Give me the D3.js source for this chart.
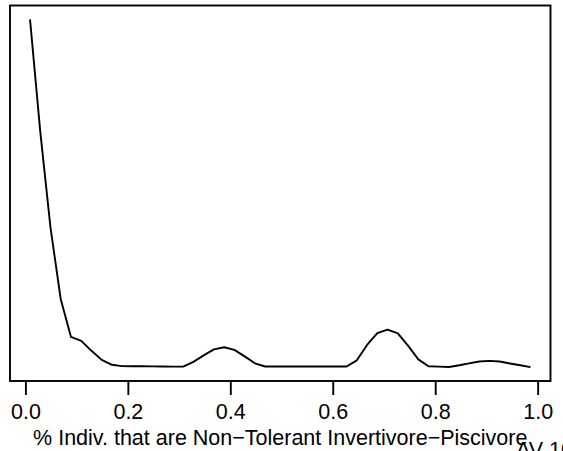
<!DOCTYPE html>
<html>
<head>
<meta charset="utf-8">
<script src="https://cdn.jsdelivr.net/npm/d3@7"></script>
<style>
  html, body { margin: 0; padding: 0; background: #fff; overflow: hidden; }
  svg { display: block; }
  text { font-family: "Liberation Sans", Arial, Helvetica, sans-serif; fill: #000; }
</style>
</head>
<body>
<svg id="chart" width="563" height="451"></svg>
<script>
// Kernel density estimate of the proportion of non-tolerant invertivore-piscivore individuals
const gridX = [
  0.009, 0.029, 0.049, 0.069, 0.089, 0.109, 0.129, 0.149, 0.169, 0.188,
  0.208, 0.228, 0.248, 0.268, 0.288, 0.308, 0.328, 0.348, 0.368, 0.388,
  0.408, 0.428, 0.448, 0.468, 0.488, 0.508, 0.527, 0.547, 0.567, 0.587,
  0.607, 0.627, 0.647, 0.667, 0.687, 0.707, 0.727, 0.747, 0.767, 0.787,
  0.807, 0.827, 0.847, 0.866, 0.886, 0.906, 0.926, 0.946, 0.966, 0.986
];
const densityY = [
  14.30, 9.69, 5.74, 2.80, 1.25, 1.09, 0.68, 0.31, 0.106, 0.053,
  0.049, 0.045, 0.041, 0.037, 0.033, 0.033, 0.228, 0.494, 0.738, 0.828,
  0.718, 0.453, 0.167, 0.037, 0.035, 0.035, 0.035, 0.035, 0.035, 0.035,
  0.035, 0.035, 0.290, 0.922, 1.411, 1.554, 1.399, 0.893, 0.330, 0.045,
  0.033, 0.016, 0.086, 0.167, 0.241, 0.269, 0.241, 0.159, 0.086, 0.012
];
const xTicks = [0, 0.2, 0.4, 0.6, 0.8, 1.0];
const xTickLabels = ["0.0", "0.2", "0.4", "0.6", "0.8", "1.0"];
const xTitle = "% Indiv. that are Non\u2212Tolerant Invertivore\u2212Piscivore";
const siteLabel = "AV 10";

const svg = d3.select("#chart");
const plot = { left: 10, right: 550.5, top: 5.5, bottom: 381 };
const fontSize = 21.5;

// 4% padding on each side of the data range
function padded(ext) {
  const d = (ext[1] - ext[0]) * 0.04;
  return [ext[0] - d, ext[1] + d];
}

const x = d3.scaleLinear().domain(padded(d3.extent(gridX))).range([plot.left, plot.right]);
const y = d3.scaleLinear().domain(padded(d3.extent(densityY))).range([plot.bottom, plot.top]);

const pts = gridX.map((v, i) => [v, densityY[i]]);

svg.append("path")
  .datum(pts)
  .attr("fill", "none")
  .attr("stroke", "#000")
  .attr("stroke-width", 1.9)
  .attr("stroke-linejoin", "round")
  .attr("d", d3.line().x(d => x(d[0])).y(d => y(d[1])));

// frame
svg.append("rect")
  .attr("x", plot.left)
  .attr("y", plot.top)
  .attr("width", plot.right - plot.left)
  .attr("height", plot.bottom - plot.top)
  .attr("fill", "none")
  .attr("stroke", "#000")
  .attr("stroke-width", 1.9);

// x axis
const axis = svg.append("g")
  .attr("transform", `translate(0,${plot.bottom})`)
  .call(d3.axisBottom(x)
    .tickValues(xTicks)
    .tickFormat((d, i) => xTickLabels[i])
    .tickSize(14)
    .tickSizeOuter(0));
axis.select(".domain").remove();
axis.selectAll(".tick line").attr("stroke", "#000").attr("stroke-width", 1.9);
axis.selectAll(".tick text")
  .attr("y", 38)
  .attr("dy", 0)
  .attr("font-size", fontSize)
  .attr("font-family", "Liberation Sans, Arial, sans-serif")
  .attr("fill", "#000");

svg.append("text")
  .attr("x", (plot.left + plot.right) / 2)
  .attr("y", 445)
  .attr("text-anchor", "middle")
  .attr("font-size", fontSize)
  .text(xTitle);

// site code in the lower-right margin
svg.append("text")
  .attr("x", 516)
  .attr("y", 457)
  .attr("font-size", fontSize)
  .text(siteLabel);
</script>
</body>
</html>
